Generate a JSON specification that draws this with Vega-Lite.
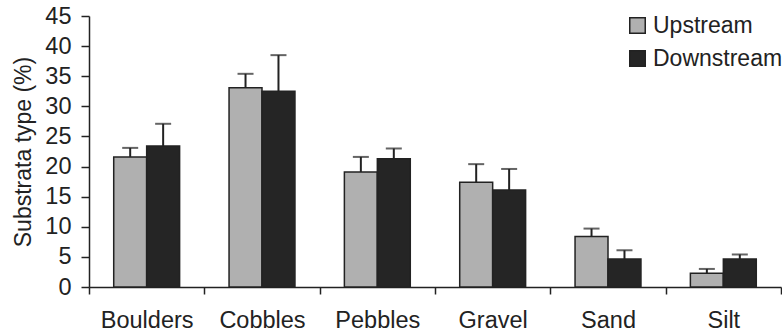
{
  "$schema": "https://vega.github.io/schema/vega-lite/v6.json",
  "autosize": "none",
  "width": 692,
  "height": 271,
  "padding": {"left": 89, "top": 16, "right": 1, "bottom": 47},
  "background": "white",
  "config": {
    "view": {"stroke": null},
    "font": "Liberation Sans",
    "axis": {"labelFont": "Liberation Sans", "titleFont": "Liberation Sans", "labelColor": "#222", "titleColor": "#222", "domainColor": "#222", "tickColor": "#222", "domainWidth": 1.5, "tickWidth": 1.5, "grid": false, "labelOverlap": false},
    "legend": {"labelFont": "Liberation Sans", "labelColor": "#222"}
  },
  "data": {
    "values": [
      {"type": "Boulders", "site": "Upstream", "value": 21.6, "upper": 23.1},
      {"type": "Boulders", "site": "Downstream", "value": 23.4, "upper": 27.1},
      {"type": "Cobbles", "site": "Upstream", "value": 33.1, "upper": 35.4},
      {"type": "Cobbles", "site": "Downstream", "value": 32.5, "upper": 38.5},
      {"type": "Pebbles", "site": "Upstream", "value": 19.1, "upper": 21.6},
      {"type": "Pebbles", "site": "Downstream", "value": 21.3, "upper": 23.0},
      {"type": "Gravel", "site": "Upstream", "value": 17.4, "upper": 20.4},
      {"type": "Gravel", "site": "Downstream", "value": 16.1, "upper": 19.6},
      {"type": "Sand", "site": "Upstream", "value": 8.4, "upper": 9.7},
      {"type": "Sand", "site": "Downstream", "value": 4.65, "upper": 6.1},
      {"type": "Silt", "site": "Upstream", "value": 2.3, "upper": 3.0},
      {"type": "Silt", "site": "Downstream", "value": 4.65, "upper": 5.4}
    ]
  },
  "encoding": {
    "x": {
      "field": "type", "type": "nominal",
      "sort": ["Boulders", "Cobbles", "Pebbles", "Gravel", "Sand", "Silt"],
      "scale": {"paddingInner": 0, "paddingOuter": 0},
      "axis": {"title": null, "labelAngle": 0, "labelFontSize": 23.5, "tickBand": "extent", "tickSize": 7, "labelPadding": 14}
    },
    "xOffset": {
      "field": "site", "type": "nominal",
      "sort": ["Upstream", "Downstream"],
      "scale": {"paddingInner": 0, "paddingOuter": 0.75}
    }
  },
  "layer": [
    {
      "mark": {"type": "bar", "stroke": "#222", "strokeWidth": 1.5},
      "encoding": {
        "y": {
          "field": "value", "type": "quantitative",
          "scale": {"domain": [0, 45], "nice": false, "zero": true},
          "axis": {"title": "Substrata type (%)", "titleFontSize": 23, "titleFontWeight": "normal", "titlePadding": 9, "labelFontSize": 23.5, "labelOverlap": false, "values": [0, 5, 10, 15, 20, 25, 30, 35, 40, 45], "tickSize": 8, "labelPadding": 10}
        },
        "color": {
          "field": "site", "type": "nominal",
          "sort": ["Upstream", "Downstream"],
          "scale": {"domain": ["Upstream", "Downstream"], "range": ["#b0b0b0", "#252525"]},
          "legend": {
            "title": null, "orient": "none", "legendX": 537, "legendY": -2,
            "symbolType": "square", "symbolSize": 240, "symbolStrokeColor": "#222", "symbolStrokeWidth": 1.5,
            "labelFontSize": 23, "labelOffset": 4, "rowPadding": 9, "padding": 0
          }
        }
      }
    },
    {
      "mark": {"type": "rule", "color": "#222", "strokeWidth": 2},
      "encoding": {
        "y": {
          "field": "value", "type": "quantitative",
          "axis": {"title": "Substrata type (%)", "titleFontSize": 23, "titleFontWeight": "normal", "titlePadding": 9, "labelFontSize": 23.5, "labelOverlap": false, "values": [0, 5, 10, 15, 20, 25, 30, 35, 40, 45], "tickSize": 8, "labelPadding": 10}
        },
        "y2": {"field": "upper"}
      }
    },
    {
      "mark": {"type": "tick", "color": "#222", "size": 16, "thickness": 2, "orient": "horizontal"},
      "encoding": {
        "y": {
          "field": "upper", "type": "quantitative",
          "axis": {"title": "Substrata type (%)", "titleFontSize": 23, "titleFontWeight": "normal", "titlePadding": 9, "labelFontSize": 23.5, "labelOverlap": false, "values": [0, 5, 10, 15, 20, 25, 30, 35, 40, 45], "tickSize": 8, "labelPadding": 10}
        }
      }
    }
  ]
}
